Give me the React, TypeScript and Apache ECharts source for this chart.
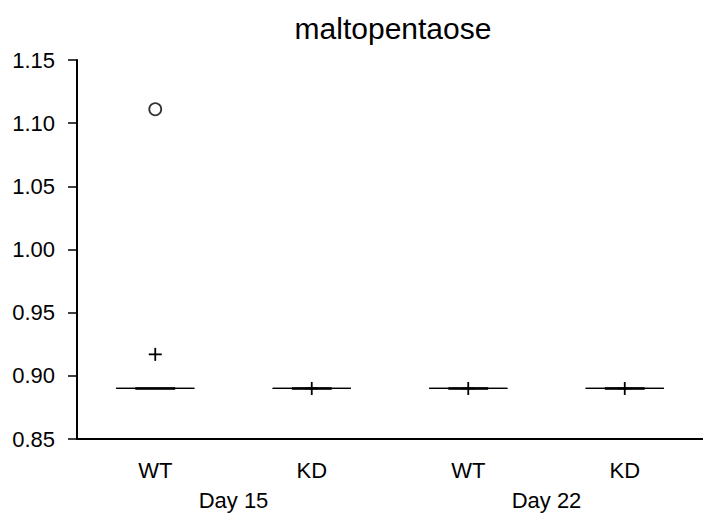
import React, { useEffect, useRef } from "react";
import * as echarts from "echarts";

const titleText = "maltopentaose";
const groups = ["WT", "KD", "WT", "KD"];
const days = ["Day 15", "Day 22"];
// [min, Q1, median, Q3, max]
const boxValues = [
  [0.89, 0.89, 0.89, 0.89, 0.89],
  [0.89, 0.89, 0.89, 0.89, 0.89],
  [0.89, 0.89, 0.89, 0.89, 0.89],
  [0.89, 0.89, 0.89, 0.89, 0.89],
];
const means = [0.917, 0.89, 0.89, 0.89];
const outliers = [[0, 1.111]];
const yTicks = { min: 0.85, max: 1.15, interval: 0.05 };

const FONT = "Liberation Sans, Arial, Helvetica, sans-serif";

export default function App() {
  const ref = useRef<HTMLDivElement>(null);
  useEffect(() => {
    document.body.style.margin = "0";
    const chart = echarts.init(ref.current!, null, { renderer: "svg" });
    const boxData = boxValues.map((v, i) => [i, ...v]);
    const meanData = means.map((m, i) => [i, m]);
    chart.setOption({
      animation: false,
      backgroundColor: "#fff",
      textStyle: { fontFamily: FONT },
      graphic: [
        {
          type: "text",
          x: 393,
          y: 28,
          style: {
            text: titleText,
            font: `30px ${FONT}`,
            fill: "#000",
            textAlign: "center",
            textVerticalAlign: "middle",
          },
        },
      ],
      grid: { left: 77, right: -5, top: 60, bottom: 78 },
      xAxis: [
        {
          type: "category",
          data: groups,
          position: "bottom",
          axisLine: { lineStyle: { color: "#000", width: 2 } },
          axisTick: { alignWithLabel: true, length: 8, lineStyle: { color: "#000", width: 1.5 } },
          axisLabel: { color: "#000", fontSize: 22, fontFamily: FONT, margin: 20 },
          splitLine: { show: false },
        },
        {
          type: "category",
          data: days,
          position: "bottom",
          axisLine: { show: false },
          axisTick: { show: false },
          axisLabel: { color: "#000", fontSize: 22, fontFamily: FONT, margin: 50 },
          splitLine: { show: false },
        },
      ],
      yAxis: {
        type: "value",
        min: yTicks.min,
        max: yTicks.max,
        interval: yTicks.interval,
        axisLine: { show: true, lineStyle: { color: "#000", width: 2 } },
        axisTick: { show: true, length: 9, lineStyle: { color: "#000", width: 1.5 } },
        axisLabel: {
          color: "#000",
          fontSize: 22,
          fontFamily: FONT,
          margin: 22,
          formatter: (v: number) => v.toFixed(2),
        },
        splitLine: { show: false },
      },
      series: [
        {
          type: "custom",
          xAxisIndex: 0,
          data: boxData,
          renderItem: (params: any, api: any) => {
            const idx = api.value(0);
            const vmin = api.value(1);
            const q1 = api.value(2);
            const med = api.value(3);
            const q3 = api.value(4);
            const vmax = api.value(5);
            const band = api.size([1, 0])[0];
            const capHalf = band * 0.25;
            const boxHalf = band * 0.127;
            const pMin = api.coord([idx, vmin]);
            const pQ1 = api.coord([idx, q1]);
            const pMed = api.coord([idx, med]);
            const pQ3 = api.coord([idx, q3]);
            const pMax = api.coord([idx, vmax]);
            const cx = pMed[0];
            const thin = { stroke: "#000", lineWidth: 1.2 };
            return {
              type: "group",
              children: [
                { type: "line", shape: { x1: cx, y1: pQ1[1], x2: cx, y2: pMin[1] }, style: thin },
                { type: "line", shape: { x1: cx, y1: pQ3[1], x2: cx, y2: pMax[1] }, style: thin },
                { type: "line", shape: { x1: cx - capHalf, y1: pMin[1], x2: cx + capHalf, y2: pMin[1] }, style: thin },
                { type: "line", shape: { x1: cx - capHalf, y1: pMax[1], x2: cx + capHalf, y2: pMax[1] }, style: thin },
                {
                  type: "rect",
                  shape: { x: cx - boxHalf, y: pQ3[1], width: boxHalf * 2, height: pQ1[1] - pQ3[1] },
                  style: { fill: "none", stroke: "#000", lineWidth: 1.5 },
                },
                {
                  type: "line",
                  shape: { x1: cx - boxHalf, y1: pMed[1], x2: cx + boxHalf, y2: pMed[1] },
                  style: { stroke: "#000", lineWidth: 2.5 },
                },
              ],
            };
          },
        },
        {
          type: "custom",
          xAxisIndex: 0,
          data: meanData,
          renderItem: (params: any, api: any) => {
            const p = api.coord([api.value(0), api.value(1)]);
            const h = 6.5;
            const st = { stroke: "#000", lineWidth: 1.8 };
            return {
              type: "group",
              children: [
                { type: "line", shape: { x1: p[0] - h, y1: p[1], x2: p[0] + h, y2: p[1] }, style: st },
                { type: "line", shape: { x1: p[0], y1: p[1] - h, x2: p[0], y2: p[1] + h }, style: st },
              ],
            };
          },
        },
        {
          type: "scatter",
          xAxisIndex: 0,
          data: outliers,
          symbol: "circle",
          symbolSize: 12,
          itemStyle: { color: "#fff", borderColor: "#000", borderWidth: 1.8 },
        },
      ],
    });
    return () => chart.dispose();
  }, []);
  return <div ref={ref} style={{ width: 703, height: 517 }} />;
}
